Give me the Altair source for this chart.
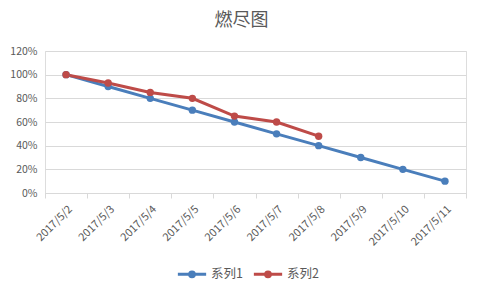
import altair as alt
import pandas as pd

dates = ["2017/5/2", "2017/5/3", "2017/5/4", "2017/5/5", "2017/5/6",
         "2017/5/7", "2017/5/8", "2017/5/9", "2017/5/10", "2017/5/11"]
series1 = [1.00, 0.90, 0.80, 0.70, 0.60, 0.50, 0.40, 0.30, 0.20, 0.10]
series2 = [1.00, 0.93, 0.85, 0.80, 0.65, 0.60, 0.48]
names = ["系列1", "系列2"]
colors = ["#4a7ebb", "#be4b48"]

rows = []
for d, v in zip(dates, series1):
    rows.append({"date": d, "value": v, "series": names[0]})
for d, v in zip(dates, series2):
    rows.append({"date": d, "value": v, "series": names[1]})
df = pd.DataFrame(rows)

FONT = "Noto Sans CJK SC"

x = alt.X("date:N", sort=dates, title=None,
          scale=alt.Scale(type="band", paddingInner=0, paddingOuter=0),
          axis=alt.Axis(labelAngle=-45, tickBand="extent", labelColor="#595959",
                        labelFontSize=11, labelFont=FONT, domainColor="#d9d9d9",
                        tickColor="#d9d9d9", tickSize=5, labelPadding=5,
                        grid=False))
y = alt.Y("value:Q", title=None,
          scale=alt.Scale(domain=[0, 1.2]),
          axis=alt.Axis(format=".0%", values=[0, 0.2, 0.4, 0.6, 0.8, 1.0, 1.2],
                        labelColor="#595959", labelFontSize=10.5, labelFont=FONT,
                        domain=False, ticks=False, gridColor="#d9d9d9",
                        labelPadding=8))
color = alt.Color("series:N", scale=alt.Scale(domain=names, range=colors),
                  title=None,
                  legend=alt.Legend(orient="none", legendX=131, legendY=207,
                                    direction="horizontal",
                                    symbolType="M -1 0 L 1 0 M -0.17 0 A 0.17 0.17 0 1 0 0.17 0 A 0.17 0.17 0 1 0 -0.17 0",
                                    symbolSize=800, symbolStrokeWidth=3,
                                    labelFontSize=12.5, labelColor="#595959",
                                    labelFont=FONT, columnPadding=4,
                                    labelOffset=3))

base = alt.Chart(df).encode(x=x, y=y, color=color)
lines = base.mark_line(strokeWidth=3)
points = base.mark_circle(size=55, opacity=1)

chart = alt.layer(lines, points).properties(
    width=421, height=142,
    title=alt.TitleParams("燃尽图", fontSize=18, color="#595959", font=FONT,
                          fontWeight="normal", anchor="middle", dx=-14, offset=16),
    autosize=alt.AutoSizeParams(type="none"),
    padding={"left": 45, "top": 51, "right": 16, "bottom": 97},
).configure_view(stroke=None).configure(background="white")

chart.save("out.html", embed_options={"renderer": "svg", "actions": False})
